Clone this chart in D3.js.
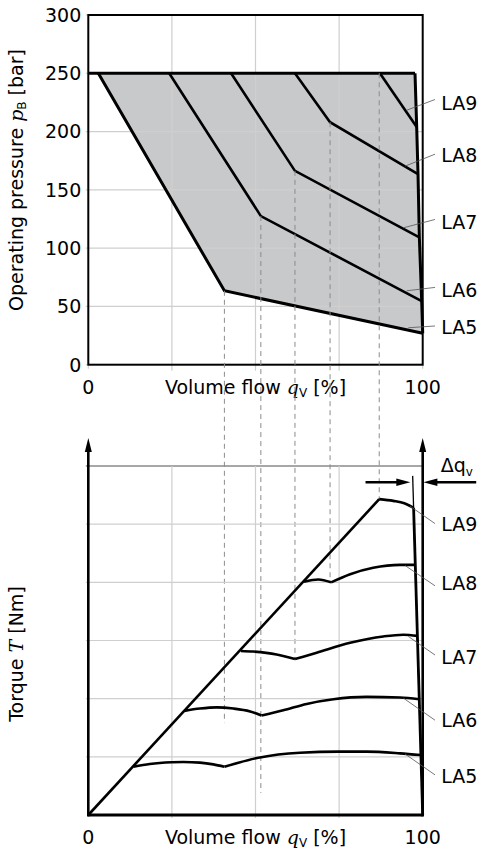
<!DOCTYPE html>
<html><head><meta charset="utf-8">
<script src="https://cdn.jsdelivr.net/npm/d3@7"></script>
<style>body{margin:0;background:#fff} svg{display:block}</style>
</head><body><svg id="c" width="481" height="850"></svg>
<script>
// ---------- data ----------
const seriesNames = ["LA5","LA6","LA7","LA8","LA9"];
const pressureTicks = [0,50,100,150,200,250,300];
const pressureGrid = [50,100,150,200];
const flowTickLabels = [0,100];
const flowGrid = [25,50,75];
const torqueGrid = [1,2,3,4,5];
const torqueTopLine = 6;

// upper diagram: [volume flow %, pressure bar]
const pressureLA5 = [[3.0,250],[40.7,63.4],[100,27]];
const pressureLA6 = [[24.2,250],[51.6,127.5],[99.7,54.6]];
const pressureLA7 = [[42.7,250],[61.8,166.3],[99.0,109.2]];
const pressureLA8 = [[61.8,250],[72.3,208],[98.6,163.5]];
const pressureLA9 = [[87.2,250],[98.2,204]];
const pressureCurves = [pressureLA5,pressureLA6,pressureLA7,pressureLA8,pressureLA9];
const pressureTopEdge = [[0,250],[97.7,250]];
const pressureRightEdge = [[97.7,250],[98.2,204],[98.6,163.5],[99.0,109.2],[99.7,54.6],[100,27]];

// lower diagram: [volume flow %, torque units], split at kinks
const torqueLA5 = [
  [[13.5,0.83],[18.4,0.877],[24.9,0.906],[28.4,0.911],[33.4,0.90],[37.4,0.87],[40.7,0.83]],
  [[40.7,0.83],[51.3,0.99],[63.3,1.07],[74.9,1.09],[83.2,1.09],[93.2,1.06],[99.47,1.03]]
];
const torqueLA6 = [
  [[28.7,1.79],[33.4,1.83],[38.4,1.85],[43.4,1.83],[48.4,1.78],[51.8,1.71]],
  [[51.8,1.71],[58.3,1.80],[65.3,1.91],[73.3,1.99],[83.2,2.03],[93.2,2.02],[98.98,1.99]]
];
const torqueLA7 = [
  [[45.6,2.82],[49.3,2.81],[56.3,2.76],[61.8,2.68]],
  [[61.8,2.68],[68.3,2.79],[78.3,2.96],[88.2,3.07],[94.2,3.10],[98.42,3.08]]
];
const torqueLA8 = [
  [[64.5,4.01],[68.8,4.05],[72.6,4.00]],
  [[72.6,4.00],[78.3,4.14],[85.2,4.25],[93.2,4.30],[97.79,4.30]]
];
const torqueLA9 = [
  [[87.0,5.43],[91.2,5.40],[94.5,5.36],[97.28,5.28]]
];
const torqueCurves = [torqueLA5,torqueLA6,torqueLA7,torqueLA8,torqueLA9];
const torqueLimit = [[0,0],[87.0,5.43]];
const torqueEdgeThin = [[97.0,5.83],[100,0]];
const torqueEdgeThick = [[97.28,5.28],[100,0]];
const deltaArrowIn = [[82.9,5.72],[96.3,5.72]];
const deltaArrowOut = [[116,5.72],[100.2,5.72]];
const axisArrowTop = 6.48;

// dashed projection lines
const dashFlow = [40.7,51.6,61.8,72.3,87.0];
const dashFromPressure = [63.4,127.5,166.3,208,250];
const dashToTorque = [1.58,0.38,2.68,4.0,5.43];

// label leaders (LA5..LA9)
const labelTopStart = [[95.7,31.7],[95.2,63.4],[94.2,117.4],[94.7,170.3],[95.2,218.3]];
const labelTopEnd = [33.2,66.3,124.6,180.6,227.5];
const labelTopText = [32.6,64,122.6,179.7,224.3];
const labelBotStart = [[94.7,1.05],[94.2,2.01],[95.7,3.07],[94.7,4.29],[96.2,5.31]];
const labelBotEnd = [0.69,1.63,2.75,3.94,5.01];
const labelBotText = [0.66,1.63,2.72,3.99,5.0];

// ---------- drawing ----------
const svg = d3.select("#c");
const SANS = "DejaVu Sans";
const SERIF = "DejaVu Serif";
const FS = 19;
const x = d3.scaleLinear().domain([0,100]).range([88.3,422.7]);
const yP = d3.scaleLinear().domain([0,300]).range([364.7,15]);
const yT = d3.scaleLinear().domain([0,6]).range([815,466]);
const GRID = "#cfcfcf", FILL = "#c8c9cb", DASH = "#8c8c8c";

const lineP = d3.line().x(d=>x(d[0])).y(d=>yP(d[1]));
const lineT = d3.line().x(d=>x(d[0])).y(d=>yT(d[1]));
const curveT = d3.line().x(d=>x(d[0])).y(d=>yT(d[1])).curve(d3.curveMonotoneX);

// ----- upper diagram -----
const gTop = svg.append("g");
const area = pressureLA5.concat(pressureRightEdge.slice().reverse());
gTop.append("path").attr("d", lineP(area)+"Z").attr("fill", FILL);

gTop.selectAll(".hg").data(pressureGrid).join("line")
  .attr("x1", x(0)-2.5).attr("x2", x(100)).attr("y1", d=>yP(d)).attr("y2", d=>yP(d))
  .attr("stroke", GRID).attr("stroke-width", 1.2);
gTop.selectAll(".tk").data([0,250,300]).join("line")
  .attr("x1", x(0)-2.5).attr("x2", x(0)).attr("y1", d=>yP(d)).attr("y2", d=>yP(d))
  .attr("stroke", GRID).attr("stroke-width", 1.2);
gTop.selectAll(".vg").data(flowGrid).join("line")
  .attr("x1", d=>x(d)).attr("x2", d=>x(d)).attr("y1", yP(300)).attr("y2", yP(0)+6)
  .attr("stroke", GRID).attr("stroke-width", 1.2);
gTop.selectAll(".vt").data(flowTickLabels).join("line")
  .attr("x1", d=>x(d)).attr("x2", d=>x(d)).attr("y1", yP(0)).attr("y2", yP(0)+4)
  .attr("stroke", GRID).attr("stroke-width", 1.2);

// dashed projections across both diagrams
svg.selectAll(".dash").data(dashFlow).join("line")
  .attr("x1", d=>x(d)).attr("x2", d=>x(d))
  .attr("y1", (d,i)=>yP(dashFromPressure[i])).attr("y2", (d,i)=>yT(dashToTorque[i]))
  .attr("stroke", DASH).attr("stroke-width", 1).attr("stroke-dasharray", "5,4");

pressureCurves.forEach((c,i)=>{
  gTop.append("path").attr("d", lineP(c)).attr("fill","none").attr("stroke","#000")
    .attr("stroke-width", i===0 ? 3 : 2.6).attr("stroke-linejoin","miter");
});
gTop.append("path").attr("d", lineP(pressureTopEdge)).attr("fill","none").attr("stroke","#000").attr("stroke-width",3);
gTop.append("path").attr("d", lineP(pressureRightEdge)).attr("fill","none").attr("stroke","#000").attr("stroke-width",3);

gTop.append("rect").attr("x", x(0)).attr("y", yP(300)).attr("width", x(100)-x(0)).attr("height", yP(0)-yP(300))
  .attr("fill","none").attr("stroke","#000").attr("stroke-width",2);

gTop.selectAll(".yl").data(pressureTicks).join("text")
  .attr("x", x(0)-7).attr("y", d=>yP(d)).attr("dy","0.36em").attr("text-anchor","end")
  .attr("font-family",SANS).attr("font-size",FS).text(d=>d);

function flowLabels(g, yBase){
  g.selectAll(".xl").data(flowTickLabels).join("text")
    .attr("x", d=>x(d)).attr("y", yBase).attr("text-anchor","middle")
    .attr("font-family",SANS).attr("font-size",FS).text(d=>d);
  const t = g.append("text").attr("x", x(50)).attr("y", yBase).attr("text-anchor","middle")
    .attr("font-family",SANS).attr("font-size",FS);
  t.append("tspan").text("Volume flow ");
  t.append("tspan").attr("font-family",SERIF).attr("font-style","italic").text("q");
  t.append("tspan").attr("font-size",12).attr("dy",3).text("V");
  t.append("tspan").attr("dy",-3).text(" [%]");
}
flowLabels(gTop, 394);

const yl = gTop.append("text").attr("transform","translate(23,180) rotate(-90)")
  .attr("text-anchor","middle").attr("font-family",SANS).attr("font-size",FS);
yl.append("tspan").text("Operating pressure ");
yl.append("tspan").attr("font-family",SERIF).attr("font-style","italic").text("p");
yl.append("tspan").attr("font-size",12).attr("dy",3).text("B");
yl.append("tspan").attr("dy",-3).text(" [bar]");

seriesNames.forEach((n,i)=>{
  gTop.append("line").attr("x1", x(labelTopStart[i][0])).attr("y1", yP(labelTopStart[i][1]))
    .attr("x2", x(100)+12.3).attr("y2", yP(labelTopEnd[i]))
    .attr("stroke","#555").attr("stroke-width",0.8);
  gTop.append("text").attr("x", x(100)+18.5).attr("y", yP(labelTopText[i])).attr("dy","0.36em")
    .attr("font-family",SANS).attr("font-size",FS).text(n);
});

// ----- lower diagram -----
const gBot = svg.append("g");
gBot.selectAll(".hg").data(torqueGrid).join("line")
  .attr("x1", x(0)-2.5).attr("x2", x(100)).attr("y1", d=>yT(d)).attr("y2", d=>yT(d))
  .attr("stroke", GRID).attr("stroke-width", 1.2);
gBot.append("line").attr("x1", x(0)-2.5).attr("x2", x(100)).attr("y1", yT(torqueTopLine)).attr("y2", yT(torqueTopLine))
  .attr("stroke", "#8a8a8a").attr("stroke-width", 1.3);
gBot.selectAll(".vg").data(flowGrid).join("line")
  .attr("x1", d=>x(d)).attr("x2", d=>x(d)).attr("y1", yT(torqueTopLine)).attr("y2", yT(0)+3)
  .attr("stroke", GRID).attr("stroke-width", 1.2);

function arrow(g, x1,y1,x2,y2, w, len, hw){
  const dx=x2-x1, dy=y2-y1, L=Math.hypot(dx,dy), ux=dx/L, uy=dy/L;
  const bx=x2-ux*len, by=y2-uy*len;
  g.append("line").attr("x1",x1).attr("y1",y1).attr("x2",x2-ux*(len-2)).attr("y2",y2-uy*(len-2))
    .attr("stroke","#000").attr("stroke-width",w);
  g.append("path").attr("d",`M${x2},${y2}L${bx-uy*hw},${by+ux*hw}L${bx+uy*hw},${by-ux*hw}Z`).attr("fill","#000");
}
gBot.append("line").attr("x1",x(0)).attr("x2",x(100)).attr("y1",yT(0)).attr("y2",yT(0))
  .attr("stroke","#000").attr("stroke-width",3);
arrow(gBot, x(0), yT(0)+1.5, x(0), yT(axisArrowTop), 2.6, 14, 3.5);
arrow(gBot, x(100), yT(0)+1.5, x(100), yT(axisArrowTop), 2.6, 14, 3.5);

gBot.append("path").attr("d", lineT(torqueEdgeThin)).attr("fill","none").attr("stroke","#000").attr("stroke-width",1.3);
gBot.append("path").attr("d", lineT(torqueEdgeThick)).attr("fill","none").attr("stroke","#000").attr("stroke-width",2.8);
gBot.append("path").attr("d", lineT(torqueLimit)).attr("fill","none").attr("stroke","#000").attr("stroke-width",2.6);
torqueCurves.forEach(c=>{
  c.forEach(seg=>{
    gBot.append("path").attr("d", curveT(seg)).attr("fill","none").attr("stroke","#000").attr("stroke-width",2.6);
  });
});

arrow(gBot, x(deltaArrowIn[0][0]), yT(deltaArrowIn[0][1]), x(deltaArrowIn[1][0]), yT(deltaArrowIn[1][1]), 2.4, 14, 3.8);
arrow(gBot, x(deltaArrowOut[0][0]), yT(deltaArrowOut[0][1]), x(deltaArrowOut[1][0]), yT(deltaArrowOut[1][1]), 2.4, 14, 3.8);
const dq = gBot.append("text").attr("x", x(100)+18).attr("y", 472).attr("font-family",SANS).attr("font-size",FS);
dq.append("tspan").text("Δq");
dq.append("tspan").attr("font-size",12).attr("dy",4).text("v");

flowLabels(gBot, 844);
const tl = gBot.append("text").attr("transform","translate(23,654) rotate(-90)")
  .attr("text-anchor","middle").attr("font-family",SANS).attr("font-size",FS);
tl.append("tspan").text("Torque ");
tl.append("tspan").attr("font-family",SERIF).attr("font-style","italic").text("T");
tl.append("tspan").text(" [Nm]");

seriesNames.forEach((n,i)=>{
  gBot.append("line").attr("x1", x(labelBotStart[i][0])).attr("y1", yT(labelBotStart[i][1]))
    .attr("x2", x(100)+12.3).attr("y2", yT(labelBotEnd[i]))
    .attr("stroke","#555").attr("stroke-width",0.8);
  gBot.append("text").attr("x", x(100)+18.5).attr("y", yT(labelBotText[i])).attr("dy","0.36em")
    .attr("font-family",SANS).attr("font-size",FS).text(n);
});
</script></body></html>
